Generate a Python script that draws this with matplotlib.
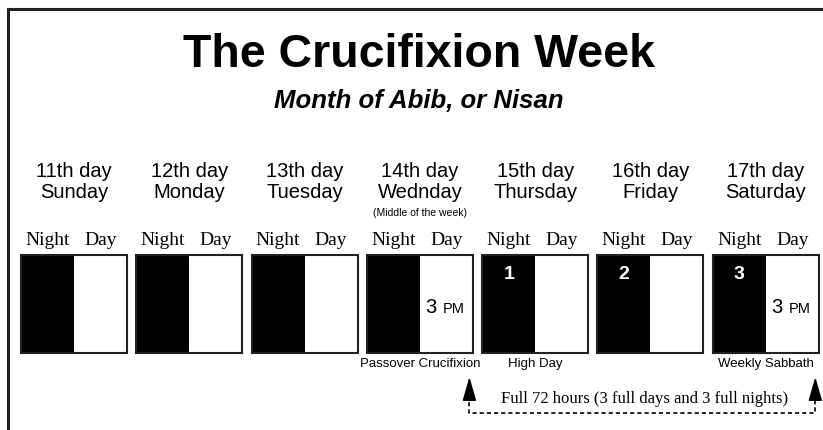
import matplotlib
matplotlib.use("Agg")
import matplotlib.pyplot as plt
from matplotlib.patches import Rectangle

# chart content
day_numbers = ["11th day", "12th day", "13th day", "14th day", "15th day", "16th day", "17th day"]
weekdays = ["Sunday", "Monday", "Tuesday", "Wednday", "Thursday", "Friday", "Saturday"]
night_marks = ["", "", "", "", "1", "2", "3"]
day_marks = ["", "", "", "3 PM", "", "", "3 PM"]
below_labels = ["", "", "", "Passover Crucifixion", "High Day", "", "Weekly Sabbath"]
middle_note = "(Middle of the week)"
span_text = "Full 72 hours (3 full days and 3 full nights)"
span_from, span_to = 3, 6   # arrow from 14th day 3 PM to 17th day 3 PM

W, H = 823, 431
sans = "Liberation Sans"
serif = "Liberation Serif"

fig = plt.figure(figsize=(W / 100, H / 100), dpi=100)
ax = fig.add_axes([0, 0, 1, 1])
ax.set_xlim(0, W)
ax.set_ylim(H, 0)
ax.axis("off")

# frame (top and left edges visible in the scan)
ax.plot([8, W], [10, 10], color="#222222", lw=2.2)
ax.plot([8, 8], [10, H], color="#222222", lw=2.2)

ax.text(419, 67, "The Crucifixion Week", family=sans, fontsize=33.5,
        weight="bold", ha="center", va="baseline")
ax.text(419, 108, "Month of Abib, or Nisan", family=sans, fontsize=18.5,
        style="italic", weight="bold", ha="center", va="baseline")

x_start, pitch, box_w = 21, 115.3, 106
box_top, box_h = 256, 98

for i in range(len(day_numbers)):
    x0 = x_start + i * pitch
    xc = x0 + box_w / 2
    xn = x0 + box_w / 4
    xd = x0 + 3 * box_w / 4

    ax.text(xc, 177, day_numbers[i], family=sans, fontsize=14.5, ha="center", va="baseline")
    ax.text(xc, 198, weekdays[i], family=sans, fontsize=14.5, ha="center", va="baseline")
    ax.text(xn, 245, "Night", family=serif, fontsize=14, ha="center", va="baseline")
    ax.text(xd, 245, "Day", family=serif, fontsize=14, ha="center", va="baseline")

    ax.add_patch(Rectangle((x0, box_top), box_w / 2, box_h, facecolor="black",
                           edgecolor="none"))
    ax.add_patch(Rectangle((x0, box_top), box_w, box_h, facecolor="none",
                           edgecolor="#222222", lw=1.5))

    if night_marks[i]:
        ax.text(xn, 279, night_marks[i], family=sans, fontsize=14, weight="bold",
                color="white", ha="center", va="baseline")
    if day_marks[i]:
        num, unit = day_marks[i].split()
        ax.text(xd - 10, 313, num, family=sans, fontsize=14.5, ha="right", va="baseline")
        ax.text(xd - 4, 313, unit, family=sans, fontsize=10.5, ha="left", va="baseline")
    if below_labels[i]:
        ax.text(xc, 367, below_labels[i], family=sans, fontsize=9.5,
                ha="center", va="baseline")
    if i == 3:
        ax.text(xc, 216, middle_note, family=sans, fontsize=7.5,
                ha="center", va="baseline")

# 72 hour span arrow
xa = x_start + span_from * pitch + 3 * box_w / 4 + 23
xb = x_start + span_to * pitch + 3 * box_w / 4 + 23
y_line = 414
ax.plot([xa, xa, xb, xb], [396, y_line, y_line, 396], color="black", lw=1.2,
        ls=(0, (2.5, 1.8)))
for xx in (xa, xb):
    ax.annotate("", xy=(xx, 378), xytext=(xx, 400),
                arrowprops=dict(arrowstyle="-|>,head_length=1.45,head_width=0.42",
                                color="black", lw=1.2, shrinkA=0, shrinkB=0))
ax.text((xa + xb) / 2 + 2, 403, span_text, family=serif, fontsize=12,
        ha="center", va="baseline")

fig.savefig("out.png", dpi=100, facecolor="white")
